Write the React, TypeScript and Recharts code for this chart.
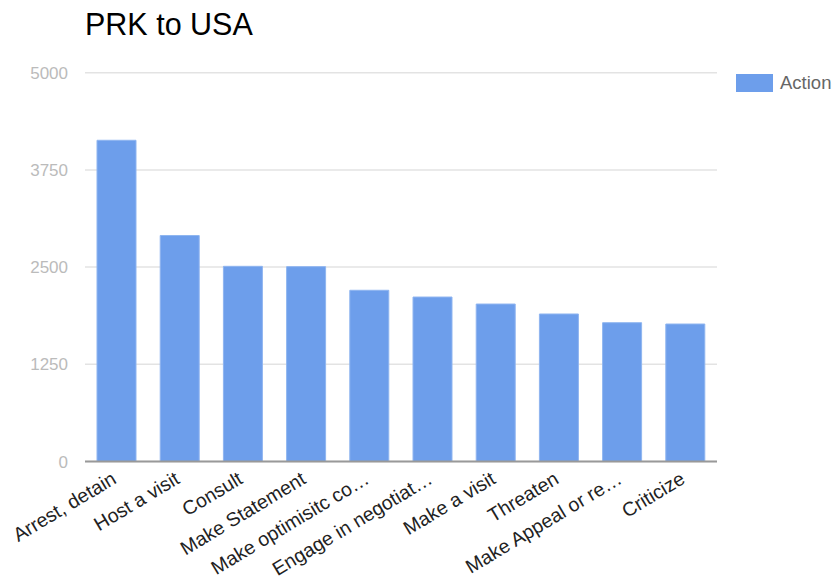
import { BarChart, Bar, XAxis, YAxis, CartesianGrid, Legend } from 'recharts';

// Event categories and how many times each was recorded
const categories = [
  'Arrest, detain',
  'Host a visit',
  'Consult',
  'Make Statement',
  'Make optimisitc co…',
  'Engage in negotiat…',
  'Make a visit',
  'Threaten',
  'Make Appeal or re…',
  'Criticize',
];
const actionCounts = [4131, 2906, 2510, 2506, 2202, 2115, 2025, 1897, 1785, 1768];
const yTicks = [0, 1250, 2500, 3750, 5000];

const BAR_COLOR = '#6d9eeb';
const FONT = '"Liberation Sans", Arial, sans-serif';

const data = categories.map((name, i) => ({ name, Action: actionCounts[i] }));

function AngledTick({ x, y, payload }: any) {
  return (
    <g transform={`translate(${x + 1},${y + 13})`}>
      <text
        x={0}
        y={0}
        textAnchor="end"
        transform="rotate(-31)"
        fontSize={19.5}
        fontFamily={FONT}
        fill="#222"
      >
        {payload.value}
      </text>
    </g>
  );
}

function ActionLegend() {
  return (
    <div style={{ display: 'flex', alignItems: 'center', fontFamily: FONT }}>
      <span
        style={{
          display: 'inline-block',
          width: 37,
          height: 18,
          background: BAR_COLOR,
          marginRight: 7,
        }}
      />
      <span style={{ fontSize: 18.5, color: '#666' }}>Action</span>
    </div>
  );
}

export default function App() {
  return (
    <div style={{ position: 'absolute', left: 0, top: 0, width: 834, height: 580, background: '#fff' }}>
      <div
        style={{
          position: 'absolute',
          left: 85,
          top: 9,
          fontFamily: FONT,
          fontSize: 30.5,
          lineHeight: '30px',
          color: '#000',
          zIndex: 1,
        }}
      >
        PRK to USA
      </div>
      <BarChart
        width={834}
        height={580}
        data={data}
        margin={{ top: 72.7, right: 17, bottom: 0, left: 0 }}
        barCategoryGap="19%"
      >
        <CartesianGrid vertical={false} stroke="#e3e3e3" strokeWidth={1.5} />
        <XAxis
          dataKey="name"
          interval={0}
          tick={<AngledTick />}
          tickLine={false}
          axisLine={{ stroke: '#999', strokeWidth: 2 }}
          height={118.5}
        />
        <YAxis
          width={85}
          domain={[0, 5000]}
          ticks={yTicks}
          axisLine={false}
          tickLine={false}
          tickMargin={11}
          tick={{ fontSize: 17, fill: '#bbb', fontFamily: FONT }}
        />
        <Legend
          layout="vertical"
          verticalAlign="top"
          align="right"
          content={<ActionLegend />}
          wrapperStyle={{ top: 72, left: 736, width: 100 }}
        />
        <Bar dataKey="Action" fill={BAR_COLOR} stroke="#8fb5f0" strokeWidth={1} isAnimationActive={false} />
      </BarChart>
    </div>
  );
}
